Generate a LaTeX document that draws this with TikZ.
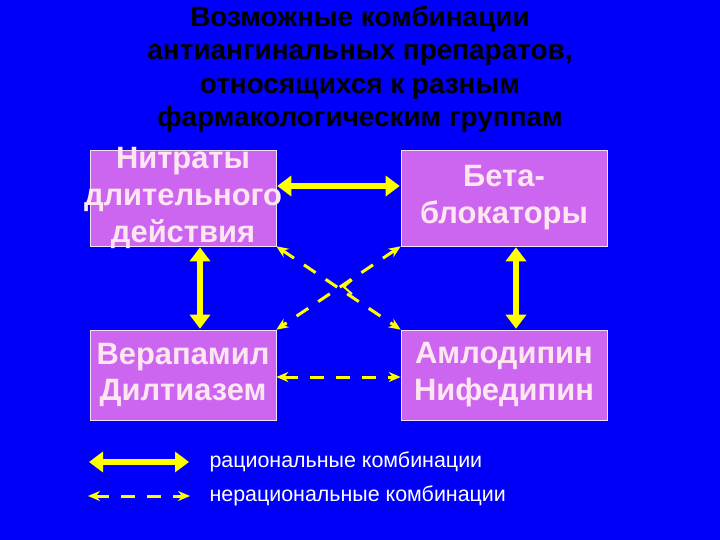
\documentclass[tikz,border=0pt]{standalone}
\usepackage{fontspec}
\setmainfont{Liberation Sans}
\usetikzlibrary{arrows.meta}
\definecolor{bg}{RGB}{0,0,250}
\definecolor{boxc}{RGB}{204,102,240}
\definecolor{txt}{RGB}{255,230,240}
\definecolor{yel}{RGB}{255,255,0}
\tikzset{
 box/.style={draw=white!80!boxc,line width=0.6bp,fill=boxc,text=txt,font=\bfseries\fontsize{31}{37}\selectfont,align=center,inner sep=0pt},
 good/.style={draw=yel,line width=6bp,{Triangle[length=14bp,width=20bp]}-{Triangle[length=14bp,width=20bp]},shorten <=1bp,shorten >=1bp},
 bad/.style={draw=yel,line width=3bp,dash pattern=on 14bp off 12bp,{Stealth[length=12bp,width=10bp]}-{Stealth[length=12bp,width=10bp]}},
}
\begin{document}
\begin{tikzpicture}[x=1bp,y=-1bp]
\fill[bg] (0,0) rectangle (720,540);
\useasboundingbox (0,0) rectangle (720,540);
\node[font=\bfseries\fontsize{28}{33.5}\selectfont,align=center,text=black] (title) at (360,69)
 {Возможные комбинации\\антиангинальных препаратов,\\относящихся к разным\\фармакологическим группам};
\node[box,minimum width=186bp,minimum height=96bp] (n) at (183,198) {};
\node[text=txt,font=\bfseries\fontsize{31}{37}\selectfont,align=center,inner sep=0pt] (nt) at (183,198)
 {\makebox[0pt]{Нитраты}\\\makebox[0pt]{длительного}\\\makebox[0pt]{действия}};
\node[box,minimum width=206bp,minimum height=96bp] (b) at (504,198) {Бета-\\блокаторы};
\node[box,minimum width=186bp,minimum height=90bp] (v) at (183,375) {Верапамил\\Дилтиазем};
\node[box,minimum width=206bp,minimum height=90bp] (a) at (504,375) {Амлодипин\\Нифедипин};
\draw[good] (n.east |- 0,186) -- (b.west |- 0,186);
\draw[good] (v.north -| 200,0) -- (n.south -| 200,0);
\draw[good] (a.north -| 516,0) -- (b.south -| 516,0);
\draw[bad] (n.south east) -- (a.north west);
\draw[bad] (b.south west) -- (v.north east);
\draw[bad] (v.east |- 0,377) -- (a.west |- 0,377);
\draw[yel,line width=2bp] (352,280) -- (344,287) -- (352,294);
\coordinate (l1a) at (88,462); \coordinate (l1b) at (190,462);
\coordinate (l2a) at (88,496); \coordinate (l2b) at (190,496);
\draw[good] (l1a) -- (l1b);
\draw[bad] (l2a) -- (l2b);
\node[anchor=west,text=white,font=\fontsize{21.5}{24}\selectfont] (t1) at (206,462) {рациональные комбинации};
\node[anchor=west,text=white,font=\fontsize{21.5}{24}\selectfont] (t2) at (206,496) {нерациональные комбинации};
\end{tikzpicture}
\end{document}
